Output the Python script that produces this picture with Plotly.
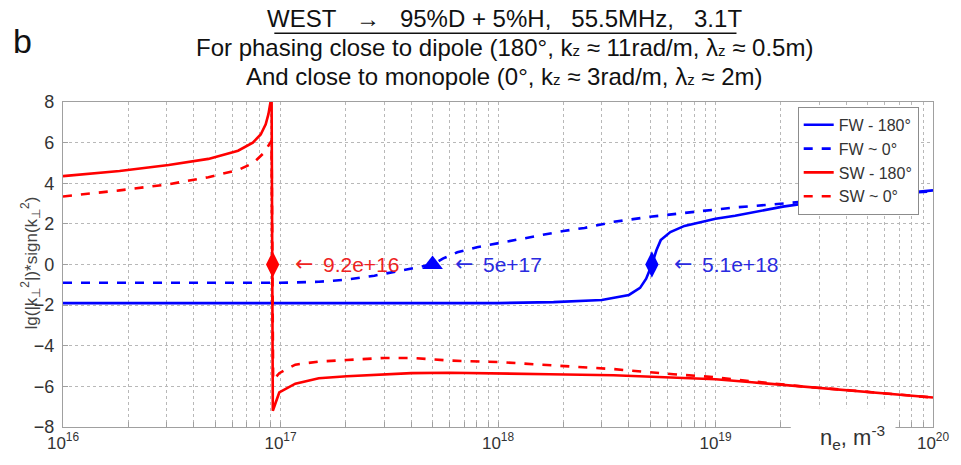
import numpy as np
import plotly.graph_objects as go

# ---------------- data ----------------
fw180_ne = [1e16, 1e17, 1e18, 1.8e18, 3e18, 4e18, 4.5e18, 4.8e18, 5.1e18, 5.35e18,
            5.6e18, 6.2e18, 7.2e18, 1e19, 1.23e19, 2.04e19, 3e19, 5e19, 1e20]
fw180_val = [-1.9, -1.9, -1.9, -1.85, -1.75, -1.5, -1.15, -0.7, 0.0, 0.7,
             1.2, 1.6, 1.9, 2.25, 2.4, 2.85, 3.1, 3.35, 3.65]

fw0_ne = [1e16, 1e17, 1.5e17, 2e17, 2.7e17, 3.4e17, 4.2e17, 5e17, 5.6e17, 6.5e17,
          8e17, 1e18, 1.4e18, 2e18, 2.5e18, 3.4e18, 5e18, 7.2e18, 1.2e19, 1.8e19,
          3e19, 6e19, 1e20]
fw0_val = [-0.9, -0.9, -0.85, -0.75, -0.55, -0.35, -0.15, 0.0, 0.3, 0.6,
           0.85, 1.05, 1.35, 1.65, 1.8, 2.1, 2.35, 2.55, 2.8, 2.95,
           3.15, 3.45, 3.6]

sw180_ne = [1e16, 1.82e16, 3.06e16, 4.66e16, 6.38e16, 7.46e16, 8.11e16, 8.55e16, 8.8e16,
            9.1e16, 9.22e16, 9.87e16, 1.17e17, 1.5e17, 2.02e17, 3e17, 4e17, 6e17,
            1e18, 1.72e18, 3.4e18, 6.4e18, 1e19, 1.47e19, 2.48e19, 4.2e19, 6.4e19, 1e20]
sw180_val = [4.35, 4.6, 4.9, 5.2, 5.6, 6.0, 6.4, 6.9, 7.4,
             8.3, -7.2, -6.3, -5.87, -5.6, -5.5, -5.4, -5.35, -5.33,
             -5.35, -5.4, -5.45, -5.55, -5.65, -5.8, -6.0, -6.2, -6.38, -6.55]

sw0_ne = [1e16, 1.82e16, 3.06e16, 4.66e16, 6.38e16, 7.5e16, 8.4e16, 8.85e16, 9.1e16,
          9.25e16, 9.87e16, 1.17e17, 1.5e17, 2.02e17, 3e17, 4e17, 6e17, 1e18,
          1.72e18, 3.4e18, 6.4e18, 1e19, 1.47e19, 2.48e19, 4.2e19, 6.4e19, 1e20]
sw0_val = [3.35, 3.65, 3.95, 4.3, 4.65, 5.0, 5.5, 5.9, 6.1,
           -5.7, -5.35, -4.93, -4.78, -4.7, -4.6, -4.6, -4.73, -4.8,
           -4.95, -5.15, -5.4, -5.55, -5.75, -6.0, -6.2, -6.38, -6.55]

mark_ne = [9.2e16, 5e17, 5.1e18]
mark_val = [0, 0, 0]
mark_sym = ["diamond-tall", "triangle-up", "diamond-tall"]
mark_size = [19, 18, 19]
mark_col = ["#ff0000", "#0000ff", "#0000ff"]
mark_txt = ["9.2e+16", "5e+17", "5.1e+18"]
txt_col = ["#ee2222", "#2a2ae0", "#2a2ae0"]

legend_names = ["FW - 180°", "FW ~ 0°", "SW - 180°", "SW ~ 0°"]

decades = [16, 17, 18, 19, 20]
ytick_vals = [-8, -6, -4, -2, 0, 2, 4, 6, 8]

BLUE = "#0000ff"
RED = "#ff0000"

# pixel geometry of the plot area
PL, PR, PT, PB = 63, 944, 102, 433
W, H = 961, 465


def px2paper(px, py):
    return (px - PL) / (PR - PL), (PB - py) / (PB - PT)


fig = go.Figure()
series = [
    (fw180_ne, fw180_val, BLUE, "solid"),
    (fw0_ne, fw0_val, BLUE, "dash"),
    (sw180_ne, sw180_val, RED, "solid"),
    (sw0_ne, sw0_val, RED, "dash"),
]
for (xs, ys, col, dash), name in zip(series, legend_names):
    fig.add_trace(go.Scatter(x=xs, y=ys, mode="lines", name=name,
                             line=dict(color=col, width=2.6, dash=dash)))

for xv, yv, sym, sz, col in zip(mark_ne, mark_val, mark_sym, mark_size, mark_col):
    fig.add_trace(go.Scatter(x=[xv], y=[yv], mode="markers", showlegend=False,
                             marker=dict(symbol=sym, size=sz, color=col,
                                         line=dict(width=0))))

# x tick positions: every 1..9 x decade
xt_vals, xt_text = [], []
for d in decades:
    for m in range(1, 10):
        if d == 20 and m > 1:
            break
        xt_vals.append(m * 10.0 ** d)
        xt_text.append(f"10<sup>{d}</sup>" if m == 1 else "")

fig.update_xaxes(type="log", range=[16, 20], tickvals=xt_vals, ticktext=xt_text,
                 showgrid=True, gridcolor="#b8b8b8", griddash="dot", gridwidth=1,
                 showline=True, linecolor="#a0a0a0", linewidth=1.2, mirror=True,
                 ticks="inside", ticklen=5, tickcolor="#a0a0a0",
                 ticklabeloverflow="allow",
                 tickfont=dict(family="Liberation Sans, Arial", size=17, color="#333333"),
                 zeroline=False)
fig.update_yaxes(range=[-8, 8], tickvals=ytick_vals,
                 showgrid=True, gridcolor="#b8b8b8", griddash="dot", gridwidth=1,
                 showline=True, linecolor="#a0a0a0", linewidth=1.2, mirror=True,
                 ticks="inside", ticklen=5, tickcolor="#a0a0a0", ticklabelstandoff=4,
                 tickfont=dict(family="Liberation Sans, Arial", size=18, color="#333333"),
                 zeroline=False)

ann = []
for xv, yv, col, txt in zip(mark_ne, mark_val, txt_col, mark_txt):
    ann.append(dict(x=np.log10(xv), y=yv, xref="x", yref="y", text="←",
                    showarrow=False, xanchor="left", yanchor="middle", xshift=20, yshift=1,
                    font=dict(family="DejaVu Sans", size=22, color=col)))
    ann.append(dict(x=np.log10(xv), y=yv, xref="x", yref="y", text=txt,
                    showarrow=False, xanchor="left", yanchor="middle", xshift=48,
                    font=dict(family="Liberation Sans, Arial", size=21, color=col)))

tfont = dict(family="Liberation Sans, Arial", size=24, color="#111111")
small_z = '<span style="font-size:15px">z</span>'
title_lines = [
    "WEST   →   95%D + 5%H,   55.5MHz,   3.1T",
    f"For phasing close to dipole (180°, k{small_z} ≈ 11rad/m, λ{small_z} ≈ 0.5m)",
    f"And close to monopole (0°, k{small_z} ≈ 3rad/m, λ{small_z} ≈ 2m)",
]
title_py = [17, 47, 76]
for t, py in zip(title_lines, title_py):
    x, y = px2paper(510, py)
    ann.append(dict(x=x, y=y, xref="paper", yref="paper", text=t, showarrow=False,
                    xanchor="center", yanchor="middle", font=tfont))

x, y = px2paper(22, 40)
ann.append(dict(x=x, y=y, xref="paper", yref="paper", text="b", showarrow=False,
                xanchor="center", yanchor="middle",
                font=dict(family="Liberation Sans, Arial", size=34, color="#111111")))
x, y = px2paper(862, 444)
ann.append(dict(x=x, y=y, xref="paper", yref="paper", text="n<sub>e</sub>, m<sup>-3</sup>",
                showarrow=False, xanchor="center", yanchor="middle",
                font=dict(family="Liberation Sans, Arial", size=22, color="#333333")))
# y-axis title
x, y = px2paper(30, 266)
ann.append(dict(x=x, y=y, xref="paper", yref="paper", textangle=-90,
                text="lg(|k<sub>⊥</sub><sup>2</sup>|)*sign(k<sub>⊥</sub><sup>2</sup>)",
                showarrow=False, xanchor="center", yanchor="middle",
                font=dict(family="Liberation Sans, Arial", size=17, color="#444444")))

bx0, by0 = px2paper(800, 465)
bx1, by1 = px2paper(906, 414)
ux0, uy = px2paper(277, 32)
ux1, _ = px2paper(745, 32)
shapes = [
    dict(type="rect", xref="paper", yref="paper", x0=bx0, x1=bx1, y0=by0, y1=by1,
         fillcolor="white", line=dict(width=0), layer="above"),
    dict(type="line", xref="paper", yref="paper", x0=ux0, x1=ux1, y0=uy, y1=uy,
         line=dict(color="#111111", width=1.5)),
]

lx, ly = px2paper(807, 107)
fig.update_layout(
    width=W, height=H,
    margin=dict(l=PL, r=W - PR, t=PT, b=H - PB),
    paper_bgcolor="white", plot_bgcolor="white",
    annotations=ann, shapes=shapes,
    showlegend=True,
    legend=dict(x=lx, y=ly, xanchor="left", yanchor="top",
                bgcolor="white", bordercolor="#8c8c8c", borderwidth=1,
                font=dict(family="Liberation Sans, Arial", size=16, color="#333333"),
                tracegroupgap=0, itemwidth=30),
)

fig.write_html("out.html", config={"displayModeBar": False},
               post_script="document.body.style.margin='0px';"
                           "document.body.style.overflow='hidden';")
